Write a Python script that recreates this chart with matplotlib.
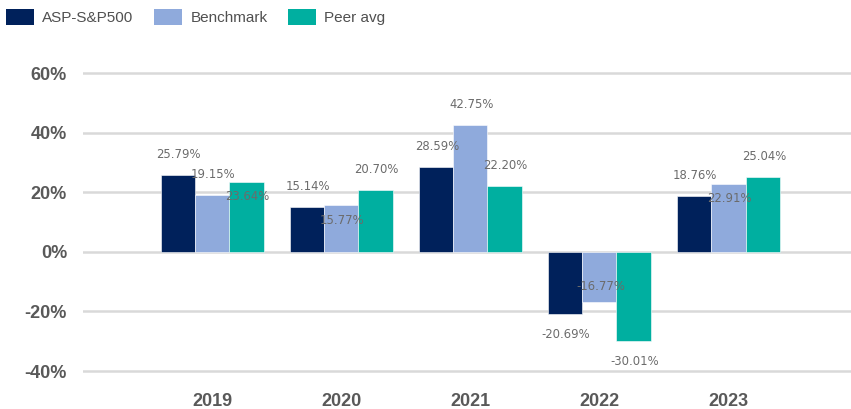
import matplotlib
matplotlib.use("Agg")
import matplotlib.pyplot as plt
from matplotlib.patches import Patch
import numpy as np

years = ["2019", "2020", "2021", "2022", "2023"]
series_names = ["ASP-S&P500", "Benchmark", "Peer avg"]
asp = [25.79, 15.14, 28.59, -20.69, 18.76]
benchmark = [19.15, 15.77, 42.75, -16.77, 22.91]
peer = [23.64, 20.70, 22.20, -30.01, 25.04]
# label placement: 'out' = beyond bar end, 'in' = inside bar end
asp_place = ["out", "out", "out", "out", "out"]
bench_place = ["out", "in", "out", "in", "in"]
peer_place = ["in", "out", "out", "out", "out"]
y_ticks = [-40, -20, 0, 20, 40, 60]

colors = ["#00215B", "#8FAADC", "#00AFA0"]
label_color = "#6B6B6B"
tick_color = "#595959"

W, H = 851, 409
fig = plt.figure(figsize=(W / 100, H / 100), dpi=100)
top_px, bot_px = 73.3 - 1.8, 371 + 1.8
ax = fig.add_axes([83 / W, (H - bot_px) / H, 1 - 83 / W, (bot_px - top_px) / H])

x = np.arange(len(years))
bw = 0.266
all_vals = [asp, benchmark, peer]
all_place = [asp_place, bench_place, peer_place]
for i, (vals, place, c, name) in enumerate(zip(all_vals, all_place, colors, series_names)):
    pos = x + (i - 1) * bw
    ax.bar(pos, vals, width=bw, color=c, label=name, zorder=3,
           edgecolor="white", linewidth=0.4)
    for xp, v, p in zip(pos, vals, place):
        sign = 1 if v >= 0 else -1
        off = 14.8 if p == "out" else -11.0
        ax.annotate(f"{v:.2f}%", (xp, v), xytext=(0.8, sign * off),
                    textcoords="offset points", ha="center", va="center",
                    fontsize=8.4, color=label_color, family="DejaVu Sans",
                    zorder=5, annotation_clip=False)

ax.set_ylim(-40.6, 60.6)
ax.set_xlim(-1.0, 4.95)
ax.set_yticks(y_ticks)
ax.set_yticklabels([f"{t}%" for t in y_ticks])
ax.set_xticks(x)
ax.set_xticklabels(years)
ax.grid(axis="y", color="#D9D9D9", linewidth=1.8, zorder=0)
ax.set_axisbelow(True)
for s in ax.spines.values():
    s.set_visible(False)
ax.tick_params(axis="y", length=0, pad=11.5)
ax.tick_params(axis="x", length=0, pad=14.5)
for lab in ax.get_yticklabels() + ax.get_xticklabels():
    lab.set_fontfamily("Liberation Sans")
    lab.set_fontweight("bold")
    lab.set_fontsize(13)
    lab.set_color(tick_color)

handles = [Patch(facecolor=c, edgecolor="none") for c in colors]
fs = 11
fpx = fs * 100 / 72
leg = fig.legend(handles, series_names, loc="upper left",
                 bbox_to_anchor=(6 / W, 1 - 9 / H), ncol=3, frameon=False,
                 borderpad=0, borderaxespad=0,
                 handlelength=28 / fpx, handleheight=19 / fpx,
                 handletextpad=8 / fpx, columnspacing=21 / fpx,
                 prop={"family": "Liberation Sans", "size": fs})
for t in leg.get_texts():
    t.set_color("#505050")

fig.savefig("out.png", dpi=100)
